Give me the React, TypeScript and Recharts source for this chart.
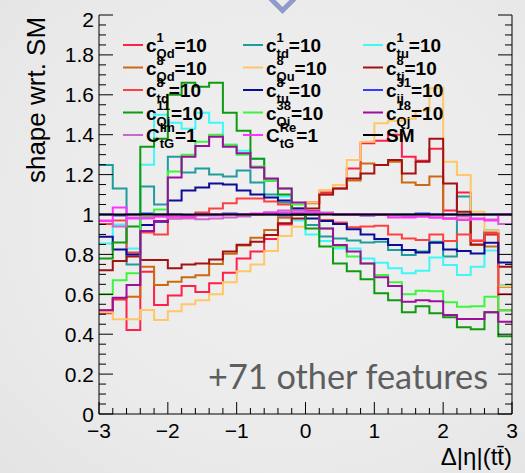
import React from 'react';
import { LineChart, Line, XAxis, YAxis } from 'recharts';

// Bin edges of the Δ|η|(tt̄) histogram (30 bins of width 0.2)
const binEdges = [
  -3, -2.8, -2.6, -2.4, -2.2, -2, -1.8, -1.6, -1.4, -1.2, -1, -0.8, -0.6, -0.4, -0.2,
  0, 0.2, 0.4, 0.6, 0.8, 1, 1.2, 1.4, 1.6, 1.8, 2, 2.2, 2.4, 2.6, 2.8, 3,
];

const xMajorTicks = [-3, -2, -1, 0, 1, 2, 3];
const yMajorTicks = [0, 0.2, 0.4, 0.6, 0.8, 1, 1.2, 1.4, 1.6, 1.8, 2];

// Shape ratios to SM, one value per bin
const cQd1 = [0.505, 0.574, 0.421, 0.713, 0.546, 0.594, 0.641, 0.611, 0.656, 0.708, 0.78, 0.814, 0.877, 0.95, 1.0, 1.06, 1.11, 1.13, 1.23, 1.357, 1.37, 1.4, 1.29, 1.27, 1.33, 1.02, 1.11, 0.87, 0.91, 0.52];
const ctd1 = [1.248, 1.13, 0.75, 1.14, 1.05, 1.29, 1.21, 1.23, 1.2, 1.19, 1.22, 1.16, 1.1, 1.06, 1.0, 0.947, 0.89, 0.88, 0.87, 0.86, 0.864, 0.822, 0.797, 0.814, 0.864, 0.79, 1.09, 0.847, 0.92, 0.64];
const ctu1 = [0.855, 0.95, 0.83, 1.25, 1.5, 1.46, 1.43, 1.51, 1.46, 1.35, 1.32, 1.28, 1.17, 1.09, 0.97, 0.9, 0.867, 0.83, 0.83, 0.78, 0.758, 0.73, 0.705, 0.718, 0.785, 0.747, 0.697, 0.738, 0.82, 0.647];
const cQd8 = [0.52, 0.58, 0.588, 0.738, 0.647, 0.663, 0.685, 0.695, 0.752, 0.803, 0.845, 0.884, 0.922, 0.984, 1.0, 1.056, 1.1, 1.148, 1.17, 1.256, 1.248, 1.265, 1.16, 1.148, 1.19, 0.98, 0.975, 0.847, 0.84, 0.638];
const cQu8 = [0.51, 0.475, 0.475, 0.521, 0.471, 0.515, 0.55, 0.57, 0.6, 0.66, 0.715, 0.75, 0.817, 0.892, 0.939, 1.06, 1.123, 1.148, 1.273, 1.365, 1.457, 1.47, 1.48, 1.52, 1.633, 1.265, 1.198, 1.014, 0.92, 0.64];
const ctj8 = [0.72, 0.767, 0.79, 0.772, 0.772, 0.73, 0.75, 0.755, 0.775, 0.814, 0.849, 0.864, 0.897, 0.956, 0.98, 1.03, 1.1, 1.13, 1.18, 1.206, 1.248, 1.273, 1.206, 1.265, 1.38, 1.156, 1.014, 0.85, 0.9, 0.738];
const ctd8 = [0.952, 0.97, 0.81, 0.91, 0.9, 0.98, 0.985, 1.01, 1.03, 1.056, 1.08, 1.08, 1.065, 1.05, 1.03, 1.0, 0.972, 0.96, 0.936, 0.94, 0.944, 0.9, 0.88, 0.872, 0.9, 0.867, 0.9, 0.867, 0.905, 0.6];
const ctu8 = [0.889, 0.825, 0.8, 0.947, 0.964, 1.07, 1.12, 1.135, 1.156, 1.15, 1.12, 1.1, 1.085, 1.07, 1.03, 0.98, 0.967, 0.952, 0.926, 0.9, 0.877, 0.847, 0.822, 0.81, 0.859, 0.825, 0.817, 0.805, 0.859, 0.76];
const cij31 = [1.0, 0.995, 1.0, 1.005, 1.0, 1.0, 0.995, 1.0, 1.0, 1.005, 1.0, 1.0, 1.0, 0.995, 1.0, 1.0, 1.005, 1.0, 1.0, 0.995, 1.0, 1.0, 1.0, 1.005, 1.0, 1.0, 0.995, 1.0, 1.0, 1.0];
const cQi11 = [0.78, 0.86, 0.94, 1.34, 1.38, 1.6, 1.66, 1.64, 1.66, 1.51, 1.42, 1.28, 1.17, 1.1, 1.0, 0.93, 0.84, 0.755, 0.715, 0.675, 0.605, 0.57, 0.51, 0.54, 0.505, 0.485, 0.435, 0.425, 0.51, 0.39];
const cQi38 = [0.6, 0.67, 0.705, 0.99, 1.025, 1.215, 1.3, 1.365, 1.4, 1.35, 1.3, 1.24, 1.17, 1.13, 1.05, 1.0, 0.93, 0.84, 0.79, 0.755, 0.697, 0.66, 0.6, 0.618, 0.615, 0.56, 0.538, 0.54, 0.588, 0.52];
const cQj18 = [0.52, 0.583, 0.647, 0.917, 0.967, 1.185, 1.29, 1.343, 1.39, 1.34, 1.307, 1.236, 1.18, 1.13, 1.06, 1.018, 0.93, 0.847, 0.814, 0.755, 0.685, 0.641, 0.563, 0.57, 0.565, 0.496, 0.476, 0.476, 0.51, 0.462];
const ctGIm = [0.97, 0.94, 0.985, 0.985, 0.99, 0.98, 0.98, 0.976, 0.98, 0.985, 0.99, 1.0, 1.01, 1.02, 1.02, 1.015, 1.01, 1.0, 1.0, 1.0, 1.0, 0.995, 0.99, 0.99, 0.985, 0.98, 0.99, 0.976, 0.975, 0.952];
const ctGRe = [0.967, 1.035, 0.98, 0.98, 0.99, 0.99, 0.99, 0.995, 0.995, 1.0, 1.0, 1.005, 1.01, 1.01, 1.01, 1.01, 1.005, 1.0, 1.0, 1.0, 0.997, 0.985, 0.985, 0.99, 0.985, 0.98, 0.972, 0.98, 0.97, 1.0];
const sm = [1, 1, 1, 1, 1, 1, 1, 1, 1, 1, 1, 1, 1, 1, 1, 1, 1, 1, 1, 1, 1, 1, 1, 1, 1, 1, 1, 1, 1, 1];

type Entry = { key: string; values: number[]; color: string; base: string; sup: string; sub: string; tail: string };

// Legend order: row by row, three columns
const entries: Entry[] = [
  { key: 'cQd1', values: cQd1, color: '#ff1f4b', base: 'c', sup: '1', sub: 'Qd', tail: '=10' },
  { key: 'ctd1', values: ctd1, color: '#1f9c9c', base: 'c', sup: '1', sub: 'td', tail: '=10' },
  { key: 'ctu1', values: ctu1, color: '#3ff7f7', base: 'c', sup: '1', sub: 'tu', tail: '=10' },
  { key: 'cQd8', values: cQd8, color: '#cc6a12', base: 'c', sup: '8', sub: 'Qd', tail: '=10' },
  { key: 'cQu8', values: cQu8, color: '#ffc766', base: 'c', sup: '8', sub: 'Qu', tail: '=10' },
  { key: 'ctj8', values: ctj8, color: '#a31212', base: 'c', sup: '8', sub: 'tj', tail: '=10' },
  { key: 'ctd8', values: ctd8, color: '#ff4040', base: 'c', sup: '8', sub: 'td', tail: '=10' },
  { key: 'ctu8', values: ctu8, color: '#0c0c9a', base: 'c', sup: '8', sub: 'tu', tail: '=10' },
  { key: 'cij31', values: cij31, color: '#3a3aff', base: 'c', sup: '31', sub: 'ij', tail: '=10' },
  { key: 'cQi11', values: cQi11, color: '#0f9a0f', base: 'c', sup: '11', sub: 'Qi', tail: '=10' },
  { key: 'cQi38', values: cQi38, color: '#3cf53c', base: 'c', sup: '38', sub: 'Qi', tail: '=10' },
  { key: 'cQj18', values: cQj18, color: '#9c0f9c', base: 'c', sup: '18', sub: 'Qj', tail: '=10' },
  { key: 'ctGIm', values: ctGIm, color: '#cc66cc', base: 'C', sup: 'Im', sub: 'tG', tail: '=1' },
  { key: 'ctGRe', values: ctGRe, color: '#ff33ff', base: 'C', sup: 'Re', sub: 'tG', tail: '=1' },
  { key: 'sm', values: sm, color: '#000000', base: 'SM', sup: '', sub: '', tail: '' },
];

// Each edge carries the content of the bin that starts there; the last edge closes the last bin.
const data = binEdges.map((x, i) => {
  const row: Record<string, number> = { x };
  entries.forEach((e) => {
    row[e.key] = e.values[Math.min(i, e.values.length - 1)];
  });
  return row;
});

const xTicks: number[] = [];
for (let i = 0; i < xMajorTicks.length - 1; i++) {
  for (let k = 0; k < 5; k++) xTicks.push(Number((xMajorTicks[i] + k * 0.2).toFixed(1)));
}
xTicks.push(xMajorTicks[xMajorTicks.length - 1]);

const yTicks: number[] = [];
for (let i = 0; i < yMajorTicks.length - 1; i++) {
  for (let k = 0; k < 4; k++) yTicks.push(Number((yMajorTicks[i] + k * 0.05).toFixed(2)));
}
yTicks.push(yMajorTicks[yMajorTicks.length - 1]);

const FONT = '"Liberation Sans", Arial, Helvetica, sans-serif';

const isYMajor = (v: number) => yMajorTicks.some((m) => Math.abs(m - v) < 1e-6);
const isXMajor = (v: number) => xMajorTicks.some((m) => Math.abs(m - v) < 1e-6);
const fmtX = (v: number) => (v < 0 ? '\u2212' + Math.abs(v) : String(v));

const LeftTick = (p: any) => {
  const v = p.payload.value;
  const major = isYMajor(v);
  return (
    <g>
      <line x1={p.x} x2={p.x + (major ? 14 : 7)} y1={p.y} y2={p.y} stroke="#000" strokeWidth={1} />
      {major && (
        <text x={p.x - 5} y={p.y + (v === 2 ? 4 : 0)} textAnchor="end" dominantBaseline="central" fontSize={21} fontFamily={FONT} fill="#000">
          {String(v)}
        </text>
      )}
    </g>
  );
};

const RightTick = (p: any) => {
  const major = isYMajor(p.payload.value);
  return <line x1={p.x} x2={p.x - (major ? 14 : 7)} y1={p.y} y2={p.y} stroke="#000" strokeWidth={1} />;
};

const BottomTick = (p: any) => {
  const v = p.payload.value;
  const major = isXMajor(v);
  return (
    <g>
      <line x1={p.x} x2={p.x} y1={p.y} y2={p.y - (major ? 12 : 6)} stroke="#000" strokeWidth={1} />
      {major && (
        <text x={p.x} y={p.y + 16} textAnchor="middle" dominantBaseline="central" fontSize={21} fontFamily={FONT} fill="#000">
          {fmtX(v)}
        </text>
      )}
    </g>
  );
};

const TopTick = (p: any) => {
  const major = isXMajor(p.payload.value);
  return <line x1={p.x} x2={p.x} y1={p.y} y2={p.y + (major ? 12 : 6)} stroke="#000" strokeWidth={1} />;
};

// Approximate bold Helvetica advance widths (em)
const charW: Record<string, number> = {
  c: 0.556, C: 0.722, Q: 0.778, d: 0.611, t: 0.333, u: 0.611, j: 0.278, i: 0.278, G: 0.778,
  I: 0.278, m: 0.889, R: 0.722, e: 0.556, S: 0.667, M: 0.833, '=': 0.584,
};
const textW = (s: string, size: number) =>
  s.split('').reduce((acc, ch) => acc + (charW[ch] ?? 0.556), 0) * size;

const LegendBlock = () => {
  const colX = [123, 243, 363];
  const rowY = [45, 67.5, 90, 112.5, 135];
  const baseSize = 19;
  const smallSize = 13;
  return (
    <g fontFamily={FONT} fontWeight="bold" fill="#000">
      {entries.map((e, idx) => {
        const lx = colX[idx % 3];
        const ly = rowY[Math.floor(idx / 3)];
        const tx = lx + 23;
        const bw = textW(e.base, baseSize);
        const sw = Math.max(textW(e.sup, smallSize), textW(e.sub, smallSize));
        return (
          <g key={e.key}>
            <line x1={lx} x2={lx + 20} y1={ly} y2={ly} stroke={e.color} strokeWidth={2} />
            <text x={tx} y={ly + 7} fontSize={baseSize}>{e.base}</text>
            {e.sup && <text x={tx + bw} y={ly - 3} fontSize={smallSize}>{e.sup}</text>}
            {e.sub && <text x={tx + bw} y={ly + 13} fontSize={smallSize}>{e.sub}</text>}
            {e.tail && <text x={tx + bw + sw} y={ly + 7} fontSize={baseSize}>{e.tail}</text>}
          </g>
        );
      })}
    </g>
  );
};

export default function App() {
  return (
    <div
      style={{
        position: 'absolute',
        left: 0,
        top: 0,
        width: 525,
        height: 473,
        background: 'radial-gradient(ellipse at 55% 45%, #f0f0f0 0%, #ebebeb 60%, #e4e4e4 100%)',
        overflow: 'hidden',
      }}
    >
      <LineChart width={525} height={473} data={data} margin={{ top: 15, right: 0, bottom: 0, left: 0 }}>
        <XAxis
          dataKey="x"
          type="number"
          domain={[-3, 3]}
          ticks={xTicks}
          interval={0}
          tickSize={0}
          tickMargin={0}
          tickLine={false}
          axisLine={{ stroke: '#000', strokeWidth: 1 }}
          tick={<BottomTick />}
          height={59}
          allowDataOverflow
        />
        <XAxis
          xAxisId="top"
          orientation="top"
          type="number"
          domain={[-3, 3]}
          ticks={xTicks}
          interval={0}
          tickSize={0}
          tickMargin={0}
          tickLine={false}
          axisLine={{ stroke: '#000', strokeWidth: 1 }}
          tick={<TopTick />}
          height={0}
          allowDataOverflow
        />
        <YAxis
          type="number"
          domain={[0, 2]}
          ticks={yTicks}
          interval={0}
          tickSize={0}
          tickMargin={0}
          tickLine={false}
          axisLine={{ stroke: '#000', strokeWidth: 1 }}
          tick={<LeftTick />}
          width={99}
          allowDataOverflow
        />
        <YAxis
          yAxisId="right"
          orientation="right"
          type="number"
          domain={[0, 2]}
          ticks={yTicks}
          interval={0}
          tickSize={0}
          tickMargin={0}
          tickLine={false}
          axisLine={{ stroke: '#000', strokeWidth: 1 }}
          tick={<RightTick />}
          width={13}
          allowDataOverflow
        />
        {entries.map((e) => (
          <Line
            key={e.key}
            dataKey={e.key}
            type="stepAfter"
            stroke={e.color}
            strokeWidth={2}
            dot={false}
            activeDot={false}
            isAnimationActive={false}
          />
        ))}
      </LineChart>
      <svg width={525} height={473} style={{ position: 'absolute', left: 0, top: 0, pointerEvents: 'none' }}>
        <polyline points="268,-4 282.5,10.5 297,-4" fill="none" stroke="#8d9dc9" strokeWidth={5} />
        <text
          x={45}
          y={100}
          transform="rotate(-90 45 100)"
          textAnchor="middle"
          fontSize={26}
          fontFamily={FONT}
          fill="#000"
        >
          shape wrt. SM
        </text>
        <text x={512} y={465} textAnchor="end" fontSize={24} fontFamily={FONT} fill="#000">
          Δ|η|(tt̄)
        </text>
        <text
          x={208}
          y={389}
          fontSize={35}
          fontFamily="Lato, 'Open Sans', sans-serif"
          fill="#5e5e5e"
          textLength={280}
          lengthAdjust="spacingAndGlyphs"
        >
          +71 other features
        </text>
        <LegendBlock />
      </svg>
    </div>
  );
}
